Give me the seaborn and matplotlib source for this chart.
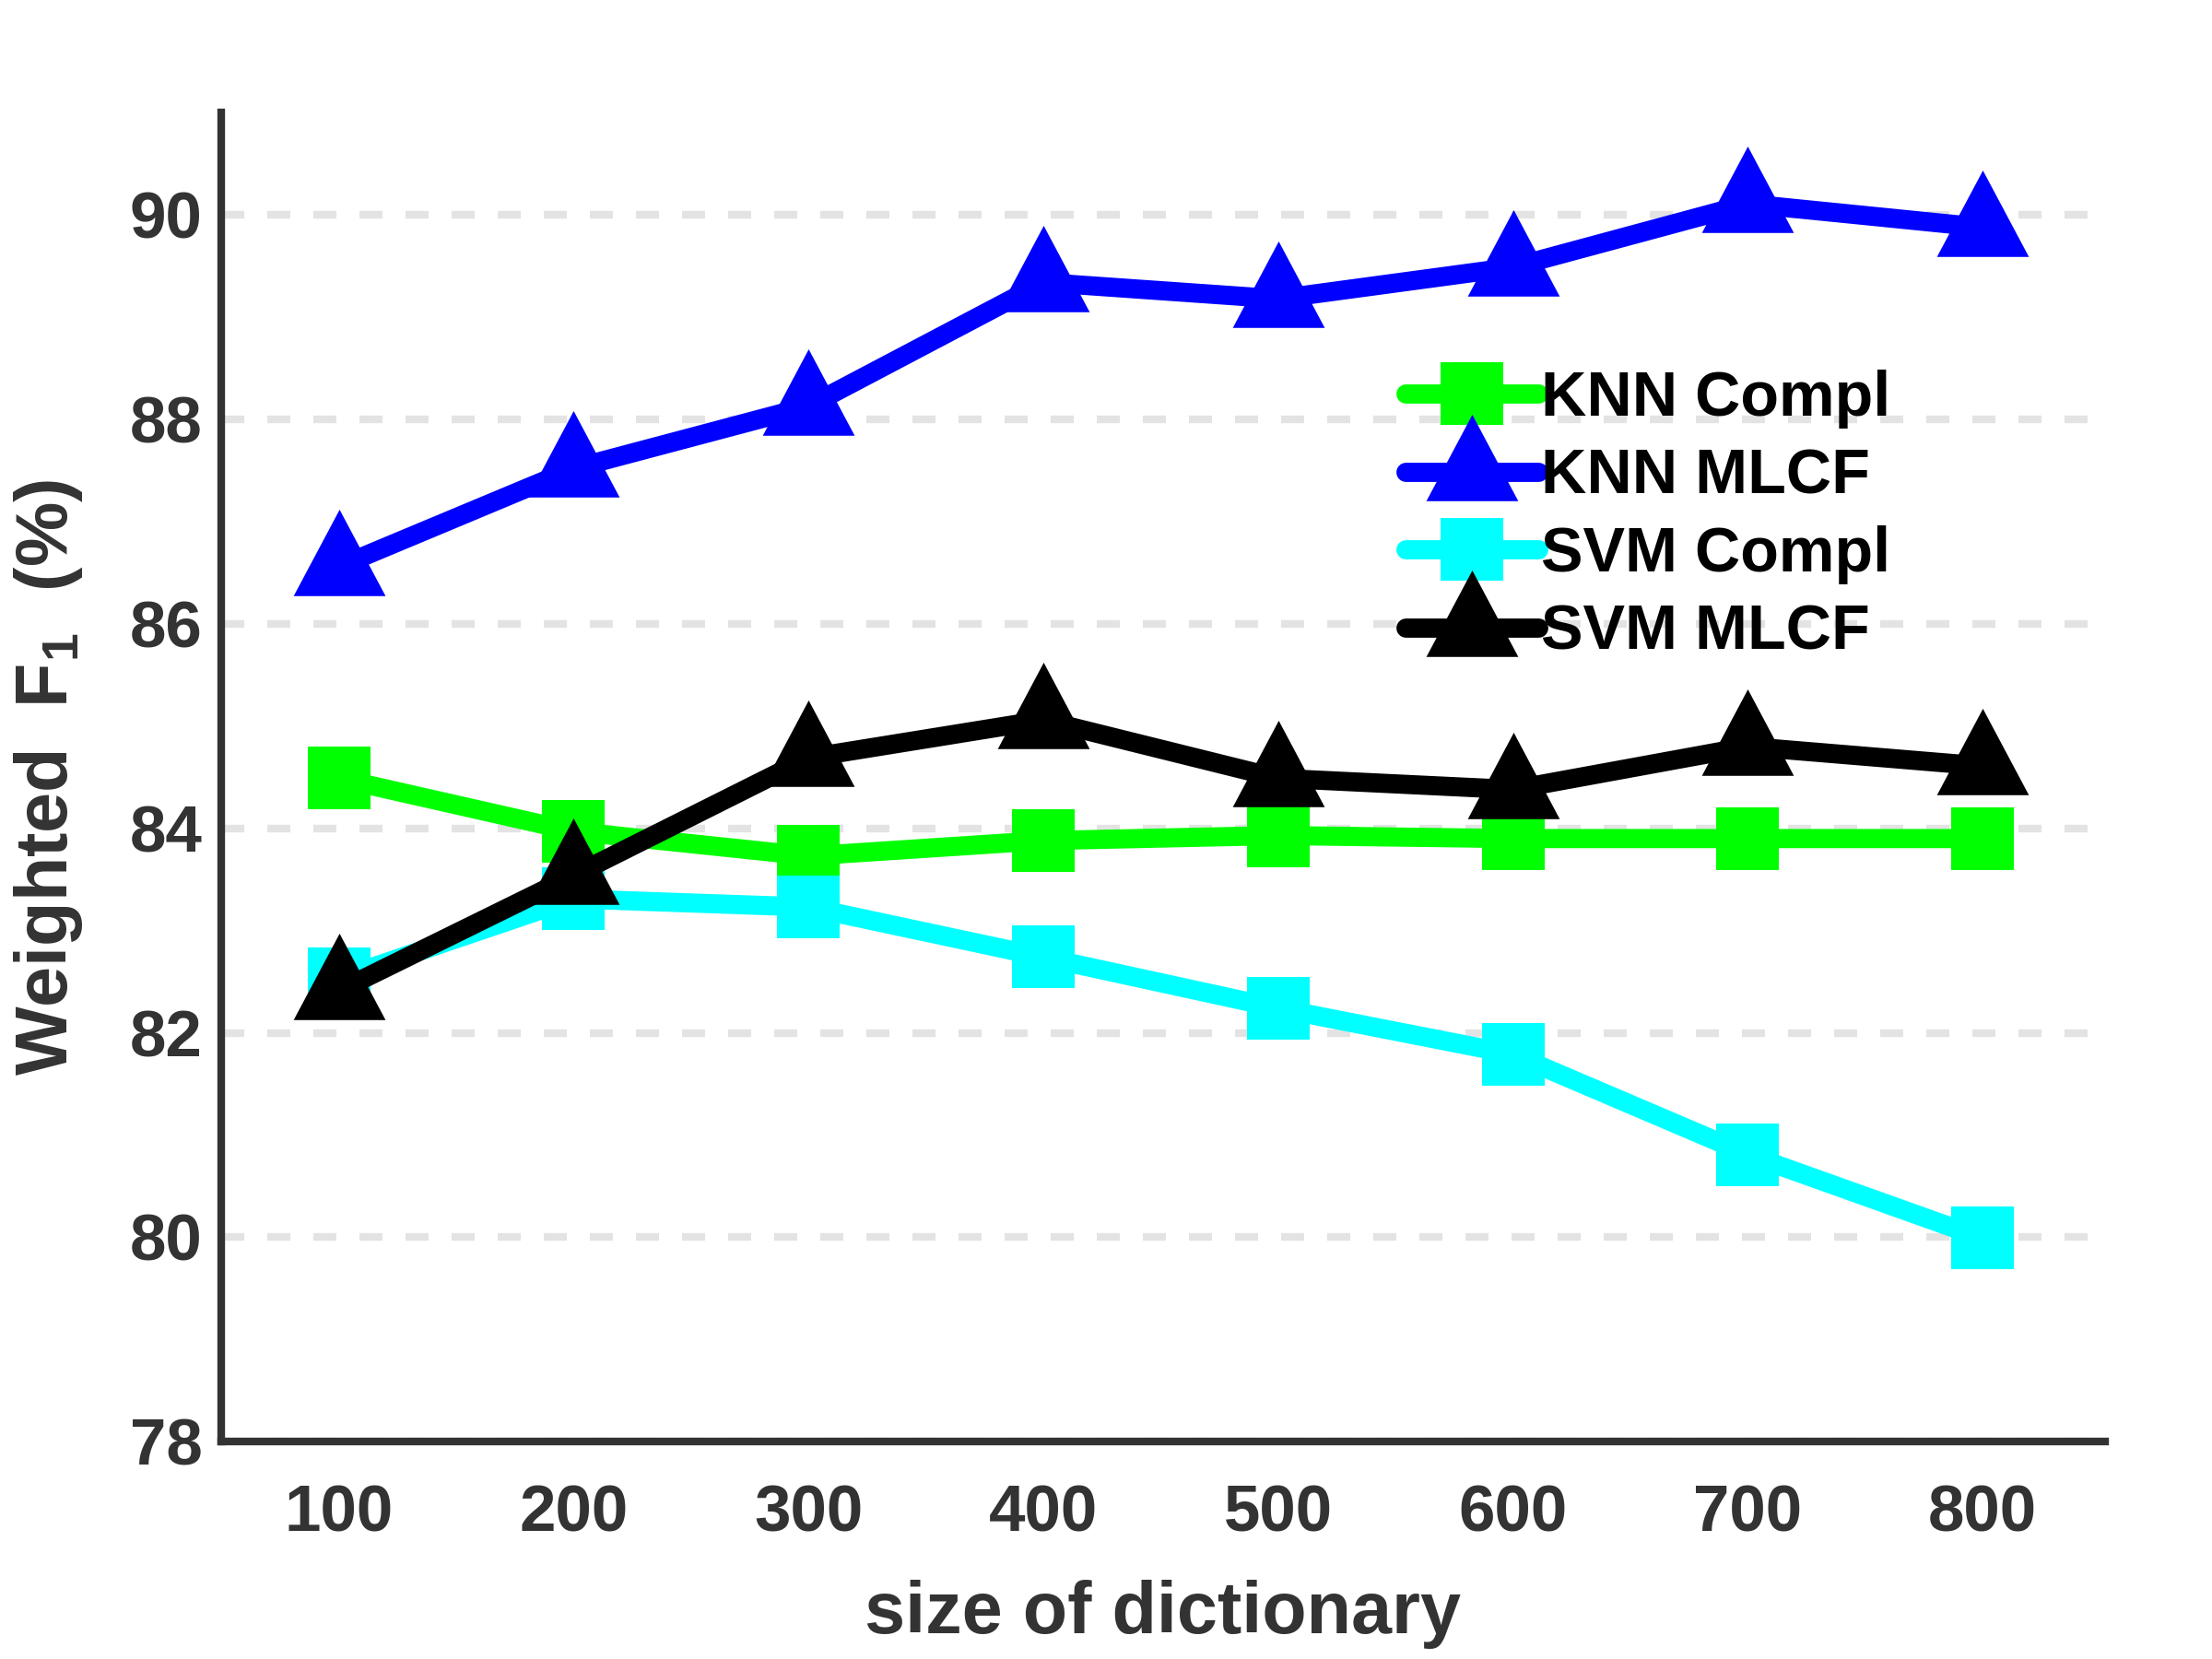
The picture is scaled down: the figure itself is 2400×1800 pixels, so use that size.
import numpy as np
import pandas as pd
import matplotlib
matplotlib.use('Agg')
import matplotlib.pyplot as plt
import seaborn as sns
from matplotlib.path import Path

# values
dict_size = [100, 200, 300, 400, 500, 600, 700, 800]
knn_compl = [84.49, 83.97, 83.73, 83.88, 83.93, 83.90, 83.90, 83.90]
knn_mlcf = [86.56, 87.52, 88.13, 89.34, 89.18, 89.49, 90.11, 89.88]
svm_compl = [82.53, 83.31, 83.23, 82.74, 82.24, 81.79, 80.81, 79.99]
svm_mlcf = [82.41, 83.54, 84.69, 85.06, 84.49, 84.38, 84.80, 84.61]

series_names = ['KNN Compl', 'KNN MLCF', 'SVM Compl', 'SVM MLCF']
series_vals = [knn_compl, knn_mlcf, svm_compl, svm_mlcf]
series_colors = ['#00ff00', '#0000ff', '#00ffff', '#000000']

df = pd.DataFrame({
    'size': dict_size * len(series_names),
    'f1': np.concatenate(series_vals),
    'method': np.repeat(series_names, len(dict_size)),
})

sns.set_style('white')
plt.rcParams['font.family'] = ['Liberation Sans', 'DejaVu Sans']
plt.rcParams['font.weight'] = 'bold'
plt.rcParams['mathtext.fontset'] = 'custom'
plt.rcParams['mathtext.rm'] = 'Liberation Sans'
plt.rcParams['mathtext.default'] = 'rm'

# matlab-style triangle: data point sits at the centroid
tri = Path([(-1, -0.627), (1, -0.627), (0, 1.253), (-1, -0.627)],
           [Path.MOVETO, Path.LINETO, Path.LINETO, Path.CLOSEPOLY])
markers = {'KNN Compl': ('s', 16.5), 'KNN MLCF': (tri, 30),
           'SVM Compl': ('s', 16.5), 'SVM MLCF': (tri, 30)}

fig = plt.figure(figsize=(8, 6), dpi=300)
ax = fig.add_axes([0.1001, 0.131, 0.8514, 0.801])

for name, col in zip(series_names, series_colors):
    mk, ms = markers[name]
    sns.lineplot(data=df[df['method'] == name], x='size', y='f1', ax=ax,
                 color=col, linewidth=5, marker=mk, markersize=ms,
                 markeredgewidth=0, label=name)

ax.set_xlim(50, 852)
ax.set_ylim(78, 91)
ax.set_xticks(dict_size)
ax.set_yticks([78, 80, 82, 84, 86, 88, 90])
ax.yaxis.grid(True, color='#e3e3e3', linewidth=2, linestyle=(0, (3, 3)))
ax.xaxis.grid(False)
ax.set_axisbelow(True)

for s in ['top', 'right']:
    ax.spines[s].set_visible(False)
for s in ['left', 'bottom']:
    ax.spines[s].set_color('#333333')
    ax.spines[s].set_linewidth(2)

ax.tick_params(axis='both', direction='in', length=4.8, width=1.8,
               colors='#333333', labelsize=17)
ax.tick_params(axis='x', pad=11)
ax.tick_params(axis='y', pad=5)

ax.set_xlabel('size of dictionary', fontsize=19, color='#333333',
              fontweight='bold', labelpad=9)
ax.set_ylabel('Weighted  F$_{1}$  (%)', fontsize=19, color='#333333',
              fontweight='bold')
ax.yaxis.set_label_coords(-0.0725, 0.5)

leg = ax.legend(loc='center left', bbox_to_anchor=(0.6355, 0.689),
                bbox_transform=fig.transFigure, frameon=False, fontsize=16.4,
                handlelength=2.1, handletextpad=0.05, labelspacing=0.3,
                borderpad=0, borderaxespad=0)
for t in leg.get_texts():
    t.set_fontweight('bold')
    t.set_color('black')

fig.savefig('out.png', dpi=300)
